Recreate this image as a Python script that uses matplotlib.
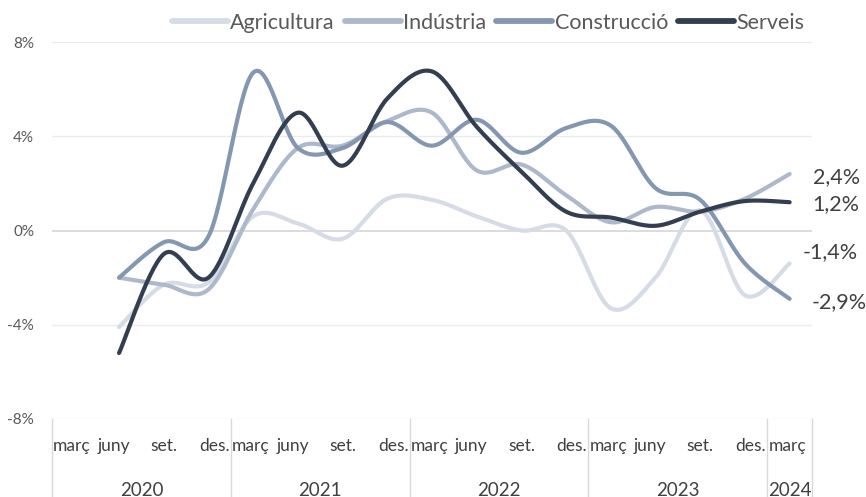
import numpy as np
import matplotlib
matplotlib.use("Agg")
import matplotlib.pyplot as plt
from matplotlib.lines import Line2D
import matplotlib.transforms as mtransforms

plt.rcParams['font.family'] = ['Lato', 'DejaVu Sans']

# ---- data -------------------------------------------------------------
quarters = ["març", "juny", "set.", "des."] * 4 + ["març"]
years = ["2020", "2021", "2022", "2023", "2024"]
year_sizes = [4, 4, 4, 4, 1]

# values from juny 2020 (index 1) to març 2024 (index 16); març 2020 empty
agricultura = [np.nan, -4.1, -2.3, -2.2, 0.6, 0.3, -0.35, 1.35, 1.3, 0.6, 0.0, 0.0, -3.3, -2.0, 0.85, -2.75, -1.4]
industria   = [np.nan, -2.0, -2.3, -2.5, 0.9, 3.5, 3.6, 4.65, 5.0, 2.55, 2.8, 1.5, 0.35, 1.0, 0.8, 1.35, 2.4]
construccio = [np.nan, -2.0, -0.5, -0.25, 6.7, 3.5, 3.5, 4.6, 3.6, 4.7, 3.3, 4.35, 4.45, 1.8, 1.3, -1.4, -2.9]
serveis     = [np.nan, -5.2, -1.0, -2.0, 2.0, 5.0, 2.75, 5.6, 6.75, 4.4, 2.5, 0.8, 0.55, 0.2, 0.8, 1.25, 1.2]

series_names = ["Agricultura", "Indústria", "Construcció", "Serveis"]
series_vals = [agricultura, industria, construccio, serveis]
end_labels = ["-1,4%", "2,4%", "-2,9%", "1,2%"]

# ---- style --------------------------------------------------------------
colors = ["#D6DCE5", "#ADB9CA", "#8497B0", "#333F50"]
# (dx right, dy down) in pixels
label_offsets_px = {"2,4%": (23, 3.5), "1,2%": (23, 1.5), "-1,4%": (13, -11), "-2,9%": (22, 3.5)}
quarter_shift = {"març": -0.05, "juny": -0.12, "set.": 0.0, "des.": 0.13}


def smooth(xs, ys, n=30):
    xs = np.asarray(xs, float)
    ys = np.asarray(ys, float)
    P = np.column_stack([xs, ys])
    out = []
    m = len(P)
    for i in range(m - 1):
        p0 = P[i - 1] if i > 0 else P[i]
        p1 = P[i]
        p2 = P[i + 1]
        p3 = P[i + 2] if i + 2 < m else P[i + 1]
        c1 = p1 + (p2 - p0) / 6.0
        c2 = p2 - (p3 - p1) / 6.0
        t = np.linspace(0, 1, n)[:, None]
        seg = ((1 - t) ** 3) * p1 + 3 * ((1 - t) ** 2) * t * c1 + 3 * (1 - t) * t ** 2 * c2 + t ** 3 * p2
        if i > 0:
            seg = seg[1:]
        out.append(seg)
    out = np.vstack(out)
    return out[:, 0], out[:, 1]


W, H = 866, 497
PX = 72 / 100  # points per pixel
fig = plt.figure(figsize=(W / 100, H / 100), dpi=100)
L, R, T, B = 52, 812, 42, 419
ax = fig.add_axes([L / W, (H - B) / H, (R - L) / W, (B - T) / H])

ncat = len(quarters)
ax.set_xlim(-0.5, ncat - 0.5)
ax.set_ylim(-8, 8)

for s in ax.spines.values():
    s.set_visible(False)
ax.set_xticks([])
ax.set_yticks([-8, -4, 0, 4, 8])
ax.set_yticklabels(["-8%", "-4%", "0%", "4%", "8%"])
ax.tick_params(axis='y', length=0, labelsize=11, labelcolor="#595959", pad=18 * PX)

for yv in [-8, -4, 4, 8]:
    ax.axhline(yv, color="#EBEBEB", lw=1.0, zorder=0)
ax.axhline(0, color="#D9D9D9", lw=1.3, zorder=0)

idx = np.arange(ncat)
for name, vals, c in zip(series_names, series_vals, colors):
    v = np.asarray(vals, float)
    m = ~np.isnan(v)
    sx, sy = smooth(idx[m], v[m])
    ax.plot(sx, sy, color=c, lw=3.0, solid_capstyle='round', zorder=3)

# end labels
for vals, lab in zip(series_vals, end_labels):
    dx, dy = label_offsets_px[lab]
    ax.annotate(lab, (idx[-1], vals[-1]), xytext=(dx * PX, -dy * PX), textcoords='offset points',
                ha='left', va='center', fontsize=15.5, color="#404040", annotation_clip=False)

# category axis
trans = mtransforms.blended_transform_factory(ax.transData, ax.transAxes)
for i, q in enumerate(quarters):
    ax.text(i + quarter_shift[q], -27 / (B - T), q, transform=trans, ha='center', va='center',
            fontsize=12.5, color="#404040")
bounds = np.concatenate([[0], np.cumsum(year_sizes)]) - 0.5
for k, yname in enumerate(years):
    ax.text((bounds[k] + bounds[k + 1]) / 2, -71 / (B - T), yname, transform=trans,
            ha='center', va='center', fontsize=13.5, color="#404040")
for b in bounds:
    ax.plot([b, b], [0, -(H - B) / (B - T)], transform=trans, color="#D9D9D9",
            lw=1.0, clip_on=False)

handles = [Line2D([0], [0], color=c, lw=4.2, solid_capstyle='round') for c in colors]
fig.legend(handles, series_names, loc='center', bbox_to_anchor=(488 / W, 1 - 23 / H),
           ncol=4, frameon=False, fontsize=15.5, handlelength=2.6, handletextpad=0.12,
           columnspacing=0.45, labelcolor="#595959", borderpad=0, borderaxespad=0)

fig.savefig("out.png", dpi=100)
